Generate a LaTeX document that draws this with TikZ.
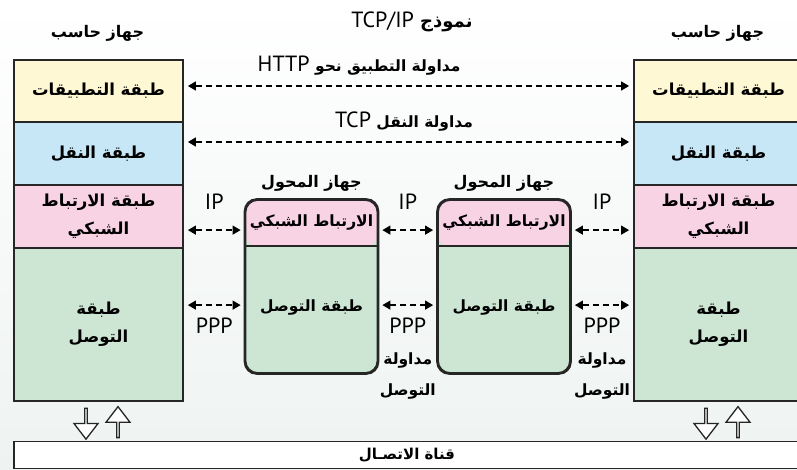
\documentclass[tikz,border=0pt]{standalone}
\usepackage{fontspec}
\setmainfont{PT Sans}
\newfontfamily\arabicfont[Script=Arabic]{DejaVu Sans}
\TeXXeTstate=1
\usetikzlibrary{arrows.meta,positioning,shapes.arrows,calc}
\definecolor{appc}{HTML}{FFF8D4}
\definecolor{transc}{HTML}{C7E7F6}
\definecolor{netc}{HTML}{F8D3E4}
\definecolor{linkc}{HTML}{CDE6D4}
\definecolor{bgc}{HTML}{EEF3F1}
\newcommand{\artxt}[1]{{\arabicfont\beginR#1\endR}}
\newcommand{\lat}[1]{\beginL{\rmfamily\mdseries\fontsize{22}{24}\selectfont #1}\endL}
\tikzstyle{layer}=[rectangle,draw=black!85,line width=1.8pt,minimum width=169pt,inner sep=0pt,align=center,font=\fontsize{16.5}{28}\selectfont\bfseries]
\tikzstyle{switchbox}=[rectangle,rounded corners=12pt,draw=black!85,line width=1.8pt,fill=linkc,minimum width=132pt,minimum height=173pt,inner sep=0pt]
\tikzstyle{swtext}=[font=\fontsize{15.5}{18}\selectfont\bfseries]
\tikzstyle{head}=[font=\fontsize{16}{18}\selectfont\bfseries]
\tikzstyle{proto}=[draw,line width=1.3pt,dash pattern=on 6pt off 4pt,{Triangle[length=8pt,width=9pt]}-{Triangle[length=8pt,width=9pt]},shorten <=4pt,shorten >=4pt]
\tikzstyle{proname}=[font=\fontsize{22}{24}\selectfont,inner sep=0pt]
\tikzstyle{protext}=[font=\fontsize{15.5}{18}\selectfont\bfseries,inner sep=0pt,align=center]
\tikzstyle{updown}=[single arrow,draw=black!85,fill=white,line width=1.3pt,minimum height=31pt,minimum width=24pt,single arrow head extend=6pt,single arrow tip angle=75,inner sep=0pt]

\begin{document}
\begin{tikzpicture}[x=1pt,y=-1pt]
    \useasboundingbox (0,0) rectangle (797,470);
    \shade[top color=white,bottom color=bgc] (0,0) rectangle (797,470);

    % the two computers
    \foreach \cx/\s in {98.5/L,718.5/R} {
        \node[layer,fill=appc,minimum height=62pt] (app\s) at (\cx,91) {\artxt{طبقة التطبيقات}};
        \node[layer,fill=transc,minimum height=63pt] (trans\s) at (\cx,153.5) {\artxt{طبقة النقل}};
        \node[layer,fill=netc,minimum height=63pt] (net\s) at (\cx,216.5) {\artxt{طبقة الارتباط}\\\artxt{الشبكي}};
        \node[layer,fill=linkc,minimum height=153pt] (link\s) at (\cx,324.5) {\artxt{طبقة}\\\artxt{التوصل}};
        \node[head] (pc\s) at (\cx-1,33) {\artxt{جهاز حاسب}};
    }
    \node[font=\fontsize{18}{20}\selectfont\bfseries] (title) at (412,22) {\artxt{نموذج {\fontsize{21}{22}\selectfont\lat{TCP/IP}}}};

    % the two switches
    \foreach \i/\cx in {1/311.5,2/504} {
        \node[switchbox,path picture={\fill[netc] (path picture bounding box.north west) rectangle ([yshift=-47pt]path picture bounding box.north east);}] (sw\i) at (\cx,286.5) {};
        \draw[draw=black!85,line width=1.8pt] ([yshift=-47pt]sw\i.north west) -- ([yshift=-47pt]sw\i.north east);
        \draw[draw=black!85,line width=1.8pt,rounded corners=12pt] (sw\i.north west) rectangle (sw\i.south east);
        \node[swtext] (swnet\i) at ([yshift=-23pt]sw\i.north) {\artxt{الارتباط الشبكي}};
        \node[swtext] (swlink\i) at ([yshift=-108pt]sw\i.north) {\artxt{طبقة التوصل}};
        \node[head,above=4pt of sw\i] (swname\i) {\artxt{جهاز المحول}};
    }

    % end to end protocols
    \path[proto] ([yshift=5pt]appL.east) -- node[protext,above=10pt,pos=0.39] (http) {\artxt{مداولة التطبيق نحو \lat{HTTP}}} ([yshift=5pt]appR.west);
    \path[proto] ([yshift=11.5pt]transL.east) -- node[protext,above=10pt,pos=0.49] (tcp) {\artxt{مداولة النقل \lat{TCP}}} ([yshift=11.5pt]transR.west);

    % hop by hop protocols
    \coordinate (ipy) at ([yshift=-31pt]sw1.north);
    \coordinate (pppy) at ([yshift=-106pt]sw1.north);
    \foreach \a/\b/\n in {netL/sw1/1, sw1/sw2/2, sw2/netR/3} {
        \path[proto] (\a.east |- ipy) -- node[proname,above=20pt] (ip\n) {IP} (\b.west |- ipy);
        \path[proto] (\a.east |- pppy) -- node[proname,below=12pt] (ppp\n) {PPP} (\b.west |- pppy);
    }
    \foreach \n in {2,3}
        \node[protext,below=19pt of ppp\n] (conn\n) {\artxt{مداولة}\\[13pt]\artxt{التوصل}};

    % channel
    \node[rectangle,draw=black!85,line width=1.8pt,fill=white,minimum width=786pt,minimum height=27pt,inner sep=0pt,font=\fontsize{15}{16}\selectfont\bfseries] (chan) at (407,455) {\artxt{قناة الاتصـال}};
    \foreach \s in {L,R} {
        \node[updown,rotate=-90] (down\s) at ($(link\s.south)+(-12.5,21)$) {};
        \node[updown,rotate=90] (up\s) at ($(link\s.south)+(19.5,21)$) {};
    }
\end{tikzpicture}
\end{document}
